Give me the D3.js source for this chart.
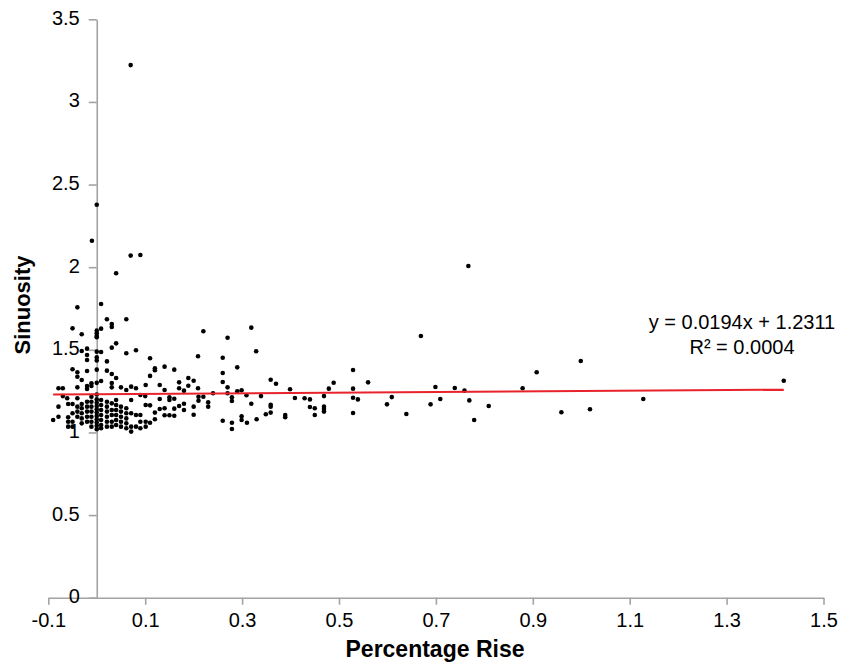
<!DOCTYPE html>
<html>
<head>
<meta charset="utf-8">
<script src="https://cdn.jsdelivr.net/npm/d3@7"></script>
<style>
  html, body { margin: 0; padding: 0; background: #fff; }
  svg { display: block; font-family: "Liberation Sans", Arial, Helvetica, sans-serif; }
</style>
</head>
<body>
<svg id="chart" width="852" height="666"></svg>
<script>
// ---- data ----
const xTicks = [-0.1, 0.1, 0.3, 0.5, 0.7, 0.9, 1.1, 1.3, 1.5];
const xTickLabels = ["-0.1", "0.1", "0.3", "0.5", "0.7", "0.9", "1.1", "1.3", "1.5"];
const yTicks = [0, 0.5, 1, 1.5, 2, 2.5, 3, 3.5];
const yTickLabels = ["0", "0.5", "1", "1.5", "2", "2.5", "3", "3.5"];
const xTitle = "Percentage Rise";
const yTitle = "Sinuosity";
const trendSlope = 0.0194;
const trendIntercept = 1.2311;
const trendLabel1 = "y = 0.0194x + 1.2311";
const trendLabel2 = "R² = 0.0004";

// points: [percentage rise, sinuosity]
const outlierPoints = [
  [0.070, 3.223], [0.000, 2.378], [-0.010, 2.160], [0.070, 2.070], [0.090, 2.074],
  [0.040, 1.963], [0.767, 2.007]
];
const farRightPoints = [
  [1.418, 1.313], [0.809, 1.160], [0.879, 1.267], [0.908, 1.364], [0.999, 1.432],
  [0.959, 1.122], [1.018, 1.140], [1.128, 1.202]
];
const midPoints = [
  [0.669, 1.584], [0.429, 1.207], [0.440, 1.200], [0.440, 1.154], [0.450, 1.146],
  [0.450, 1.106], [0.469, 1.220], [0.469, 1.156], [0.469, 1.142], [0.469, 1.126],
  [0.479, 1.265], [0.489, 1.301], [0.529, 1.378], [0.529, 1.265], [0.529, 1.210],
  [0.529, 1.118], [0.539, 1.200], [0.560, 1.303], [0.599, 1.170], [0.609, 1.214],
  [0.639, 1.112], [0.689, 1.170], [0.699, 1.275], [0.709, 1.202], [0.739, 1.269],
  [0.759, 1.253], [0.769, 1.194], [0.779, 1.075]
];
const innerPoints = [
  [0.319, 1.634], [0.220, 1.612], [0.270, 1.573], [0.329, 1.491], [0.209, 1.461],
  [0.260, 1.452], [0.290, 1.394], [0.140, 1.398], [0.160, 1.380], [0.260, 1.360],
  [0.130, 1.287], [0.170, 1.303], [0.170, 1.267], [0.189, 1.329], [0.200, 1.313],
  [0.189, 1.283], [0.140, 1.257], [0.180, 1.253], [0.209, 1.267], [0.260, 1.305],
  [0.270, 1.273], [0.290, 1.249], [0.299, 1.255], [0.359, 1.319], [0.370, 1.295],
  [0.399, 1.261], [0.240, 1.237], [0.210, 1.216], [0.220, 1.216], [0.270, 1.237],
  [0.309, 1.225], [0.339, 1.220], [0.130, 1.202], [0.150, 1.213], [0.150, 1.196],
  [0.160, 1.204], [0.210, 1.192], [0.279, 1.213], [0.279, 1.190], [0.230, 1.182],
  [0.230, 1.156], [0.409, 1.208], [0.319, 1.174], [0.130, 1.142], [0.140, 1.146],
  [0.160, 1.144], [0.170, 1.160], [0.180, 1.136], [0.200, 1.156], [0.180, 1.174],
  [0.140, 1.104], [0.150, 1.104], [0.160, 1.101], [0.200, 1.107], [0.359, 1.168],
  [0.359, 1.156], [0.349, 1.110], [0.359, 1.120], [0.389, 1.106], [0.389, 1.092],
  [0.260, 1.071], [0.279, 1.059], [0.279, 1.021], [0.299, 1.098], [0.299, 1.075],
  [0.310, 1.059], [0.330, 1.080],
  [0.110, 1.449], [0.110, 1.342], [0.110, 1.164], [0.110, 1.059], [0.120, 1.388],
  [0.120, 1.376], [0.120, 1.120], [0.120, 1.080]
];
const nearZeroUpper = [
  [0.009, 1.777], [0.021, 1.685], [0.061, 1.685], [0.031, 1.656], [0.031, 1.638],
  [0.009, 1.628], [0.000, 1.600], [0.000, 1.576], [0.040, 1.539], [0.031, 1.513],
  [0.061, 1.479], [0.081, 1.497], [0.009, 1.487], [0.000, 1.489], [0.000, 1.455],
  [0.000, 1.436], [0.021, 1.430], [0.021, 1.374], [0.031, 1.354], [0.040, 1.329],
  [0.009, 1.311], [0.031, 1.299], [0.031, 1.273], [0.050, 1.273], [0.061, 1.257],
  [0.071, 1.277], [0.081, 1.267], [0.101, 1.287], [0.090, 1.227], [0.100, 1.220],
  [0.000, 1.616], [0.000, 1.583], [0.000, 1.380], [0.000, 1.300]
];
const negativePoints = [
  [-0.040, 1.757], [-0.050, 1.630], [-0.031, 1.594], [-0.031, 1.493], [-0.020, 1.507],
  [-0.020, 1.469], [-0.020, 1.438], [-0.050, 1.382], [-0.040, 1.364], [-0.020, 1.372],
  [-0.040, 1.337], [-0.031, 1.317], [-0.011, 1.297], [-0.020, 1.281], [-0.011, 1.281],
  [-0.040, 1.273], [-0.020, 1.263], [-0.079, 1.267], [-0.070, 1.267], [-0.070, 1.220],
  [-0.061, 1.207], [-0.079, 1.156], [-0.050, 1.172], [-0.059, 1.172], [-0.040, 1.207],
  [-0.040, 1.156], [-0.031, 1.172], [-0.031, 1.146], [-0.020, 1.186], [-0.020, 1.156],
  [-0.020, 1.126], [-0.020, 1.095], [-0.020, 1.065], [-0.011, 1.216], [-0.011, 1.186],
  [-0.011, 1.156], [-0.011, 1.126], [-0.011, 1.095], [-0.011, 1.065], [-0.011, 1.035],
  [-0.031, 1.116], [-0.031, 1.085], [-0.031, 1.055], [-0.040, 1.126], [-0.040, 1.095],
  [-0.050, 1.116], [-0.059, 1.092], [-0.059, 1.065], [-0.059, 1.035], [-0.050, 1.065],
  [-0.050, 1.035], [-0.079, 1.095], [-0.090, 1.075]
];
const denseCluster = [
  [0.000, 1.230], [0.000, 1.200], [0.000, 1.180], [0.000, 1.160], [0.000, 1.140],
  [0.000, 1.120], [0.000, 1.100], [0.000, 1.080], [0.000, 1.060], [0.000, 1.040],
  [0.000, 1.020],
  [0.009, 1.196], [0.009, 1.166], [0.009, 1.136], [0.009, 1.106], [0.009, 1.075],
  [0.009, 1.045], [0.009, 1.025],
  [0.021, 1.186], [0.021, 1.156], [0.021, 1.126], [0.021, 1.095], [0.021, 1.065],
  [0.021, 1.035],
  [0.031, 1.176], [0.031, 1.136], [0.031, 1.106], [0.031, 1.065], [0.031, 1.035],
  [0.040, 1.196], [0.040, 1.166], [0.040, 1.136], [0.040, 1.106], [0.040, 1.075],
  [0.040, 1.045],
  [0.050, 1.156], [0.050, 1.126], [0.050, 1.095], [0.050, 1.065], [0.050, 1.035],
  [0.061, 1.146], [0.061, 1.116], [0.061, 1.085], [0.061, 1.055], [0.061, 1.025],
  [0.071, 1.196], [0.071, 1.116], [0.071, 1.035], [0.071, 1.005],
  [0.081, 1.106], [0.081, 1.035],
  [0.090, 1.106], [0.090, 1.065], [0.090, 1.025],
  [0.101, 1.166], [0.101, 1.065], [0.101, 1.035]
];
const allPoints = [].concat(outlierPoints, farRightPoints, midPoints, innerPoints,
  nearZeroUpper, negativePoints, denseCluster);

// ---- layout ----
const W = 852, H = 666;
const margin = { left: 48.3, right: 28.5, top: 19.3, bottom: 68.3 };
const x = d3.scaleLinear().domain([-0.1, 1.5]).range([margin.left, W - margin.right]);
const y = d3.scaleLinear().domain([0, 3.5]).range([H - margin.bottom, margin.top]);

const svg = d3.select("#chart");
const axisColor = "#a3a3a3";

// x axis
const gx = svg.append("g")
  .attr("transform", `translate(0,${y(0)})`)
  .call(d3.axisBottom(x).tickValues(xTicks).tickSize(7).tickSizeOuter(0).tickPadding(8)
    .tickFormat((d, i) => xTickLabels[i]));
// y axis
const gy = svg.append("g")
  .attr("transform", `translate(${x(0)},0)`)
  .call(d3.axisLeft(y).tickValues(yTicks).tickSize(8).tickSizeOuter(0).tickPadding(9)
    .tickFormat((d, i) => yTickLabels[i]));

[gx, gy].forEach(g => {
  g.selectAll(".domain").attr("stroke", axisColor).attr("stroke-width", 1.6);
  g.selectAll(".tick line").attr("stroke", axisColor).attr("stroke-width", 1.6);
  g.selectAll(".tick text").attr("fill", "#000").style("font-size", "20px")
    .style("font-family", '"Liberation Sans", Arial, sans-serif');
});
gy.selectAll(".tick text").attr("dy", "0.25em");

// axis titles
svg.append("text")
  .attr("x", 435).attr("y", 657)
  .attr("text-anchor", "middle")
  .style("font-size", "23px").style("font-weight", "bold")
  .text(xTitle);
svg.append("text")
  .attr("transform", `translate(30,305) rotate(-90)`)
  .attr("text-anchor", "middle")
  .style("font-size", "22px").style("font-weight", "bold")
  .text(yTitle);

// points
svg.append("g").selectAll("circle")
  .data(allPoints)
  .join("circle")
  .attr("cx", d => x(d[0]))
  .attr("cy", d => y(d[1]))
  .attr("r", 2.3)
  .attr("fill", "#000");

// trend line over data extent
const xExt = d3.extent(allPoints, d => d[0]);
svg.append("line")
  .attr("x1", x(xExt[0])).attr("y1", y(trendIntercept + trendSlope * xExt[0]))
  .attr("x2", x(xExt[1])).attr("y2", y(trendIntercept + trendSlope * xExt[1]))
  .attr("stroke", "#e8232b").attr("stroke-width", 2);

// trend label
svg.append("text").attr("x", 742).attr("y", 329).attr("text-anchor", "middle")
  .style("font-size", "20px").text(trendLabel1);
svg.append("text").attr("x", 742).attr("y", 354).attr("text-anchor", "middle")
  .style("font-size", "20px").text(trendLabel2);
</script>
</body>
</html>
